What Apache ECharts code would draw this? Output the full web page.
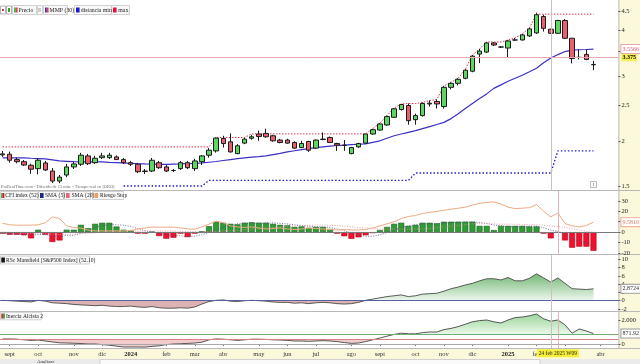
<!DOCTYPE html>
<html><head><meta charset="utf-8">
<script src="https://cdn.jsdelivr.net/npm/echarts@6/dist/echarts.min.js"></script>
<style>html,body{margin:0;padding:0;background:#fff}#c{width:640px;height:364px}</style>
</head><body><div id="c"></div><script>
// ---------- categories (weekly bars, Monday dates) ----------
const weeks = [];
(function(){ const t0 = Date.UTC(2023,7,28); for (let i=0;i<87;i++){ weeks.push(new Date(t0 + i*7*864e5).toISOString().slice(0,10)); } })();
const monthNames = ['ene','feb','mar','abr','may','jun','jul','ago','sept','oct','nov','dic'];
const markWeek = 77, cursorWeek = 78;
const cursorLabel = '24 feb 2025 W09';

// ---------- tick labels ----------
const priceTicks = [1.5, 2, 2.5, 3, 3.5, 4, 4.5];
const cfiTicks = [-20, -10, 0, 10, 20, 30];
const rscTicks = [-2, 0, 2, 4, 6, 8, 10];
const inerciaTicks = [0, 2000];

// ---------- price (weekly candles) ----------
const priceOpen = [1.843,1.839,1.778,1.755,1.716,1.680,1.741,1.655,1.554,1.614,
1.698,1.727,1.820,1.744,1.800,1.800,1.808,1.778,1.744,1.727,
1.655,1.655,1.744,1.698,1.661,1.680,1.744,1.680,1.755,1.828,
1.878,2.030,1.988,1.846,1.972,2.033,2.088,2.096,2.065,2.010,
2.010,1.980,1.918,1.992,1.911,2.022,2.043,1.967,1.945,1.846,
1.926,1.972,2.088,2.141,2.210,2.319,2.435,2.497,2.285,2.344,
2.534,2.561,2.481,2.799,2.870,2.963,3.097,3.449,3.493,3.698,
3.605,3.582,3.768,3.768,3.865,3.939,4.367,4.032,3.930,4.258,
3.809,3.378,3.442,3.225];
const priceClose = [1.831,1.771,1.755,1.719,1.674,1.771,1.666,1.554,1.593,1.698,
1.730,1.828,1.733,1.793,1.820,1.828,1.778,1.744,1.727,1.648,
1.650,1.771,1.690,1.655,1.661,1.744,1.690,1.763,1.820,1.886,
2.035,1.967,1.866,1.939,2.022,2.052,2.056,2.052,2.001,1.980,
1.972,1.911,1.967,1.886,2.010,2.018,1.980,1.947,1.945,1.918,
1.967,2.088,2.145,2.224,2.329,2.446,2.513,2.271,2.344,2.529,
2.521,2.521,2.799,2.870,2.944,3.117,3.405,3.515,3.698,3.651,
3.605,3.745,3.768,3.890,4.040,4.415,4.054,3.930,4.258,3.809,
3.354,3.378,3.335,3.231];
const priceHigh = [1.878,1.870,1.800,1.774,1.733,1.793,1.763,1.687,1.614,1.730,
1.752,1.855,1.843,1.820,1.855,1.855,1.826,1.797,1.763,1.741,
1.676,1.797,1.763,1.719,1.676,1.763,1.763,1.786,1.831,1.914,
2.043,2.065,2.096,1.959,2.039,2.078,2.132,2.159,2.078,2.026,
2.026,1.995,2.001,2.001,2.018,2.109,2.056,1.976,2.010,1.926,
1.976,2.092,2.159,2.235,2.344,2.458,2.521,2.529,2.374,2.545,
2.577,2.594,2.825,2.888,2.963,3.137,3.427,3.560,3.721,3.721,
3.628,3.768,3.816,3.914,4.066,4.472,4.415,4.040,4.277,4.296,
3.816,3.553,3.553,3.305];
const priceLow = [1.808,1.744,1.737,1.708,1.627,1.621,1.655,1.534,1.534,1.593,
1.676,1.708,1.719,1.730,1.786,1.786,1.774,1.730,1.708,1.634,
1.624,1.645,1.676,1.645,1.645,1.666,1.676,1.655,1.719,1.800,
1.858,1.918,1.858,1.839,1.959,2.014,2.001,2.039,1.988,1.970,
1.963,1.902,1.911,1.866,1.902,2.007,1.976,1.878,1.878,1.839,
1.914,1.963,2.078,2.132,2.200,2.315,2.419,2.214,2.214,2.329,
2.481,2.450,2.450,2.763,2.834,2.944,3.077,3.258,3.471,3.628,
3.582,3.363,3.745,3.756,3.841,3.914,3.972,3.914,3.914,3.792,
3.252,3.335,3.320,3.117];
const mmp30 = [1.797,1.797,1.797,1.797,1.793,1.790,1.786,1.775,1.763,1.759,
1.755,1.752,1.752,1.752,1.752,1.748,1.745,1.741,1.737,1.733,
1.730,1.728,1.725,1.726,1.728,1.730,1.734,1.737,1.741,1.749,
1.757,1.768,1.778,1.788,1.797,1.805,1.812,1.820,1.835,1.850,
1.866,1.880,1.894,1.905,1.916,1.926,1.935,1.943,1.948,1.953,
1.958,1.963,1.982,2.001,2.033,2.065,2.088,2.110,2.132,2.160,
2.188,2.217,2.246,2.300,2.370,2.450,2.529,2.610,2.686,2.781,
2.843,2.907,2.963,3.020,3.087,3.156,3.268,3.363,3.438,3.504,
3.537,3.544,3.549,3.557];
const distMin = [null,null,null,null,null,null,null,null,null,null,
null,null,null,null,null,null,null,1.506,1.506,1.506,
1.506,1.506,1.506,1.506,1.506,1.506,1.506,1.506,1.506,1.561,
1.561,1.561,1.561,1.561,1.561,1.561,1.561,1.561,1.561,1.561,
1.561,1.561,1.561,1.561,1.561,1.561,1.561,1.561,1.561,1.561,
1.561,1.561,1.561,1.561,1.561,1.561,1.561,1.561,1.634,1.634,
1.634,1.634,1.634,1.634,1.634,1.634,1.634,1.634,1.634,1.634,
1.634,1.634,1.634,1.634,1.634,1.634,1.634,1.634,1.878,1.878,
1.878,1.878,1.878,1.878];
const maxLine = [1.926,1.926,1.926,1.926,1.926,1.926,1.926,1.926,1.926,1.926,
1.926,1.926,1.926,1.926,1.926,1.926,1.926,1.926,1.926,1.926,
1.926,1.926,1.926,1.926,1.926,1.926,1.926,1.926,1.926,1.926,
2.043,2.043,2.043,2.043,2.043,2.09,2.09,2.09,2.09,2.09,
2.09,2.09,2.09,2.09,2.09,2.09,2.09,2.09,2.09,2.09,
2.09,2.09,2.159,2.235,2.344,2.458,2.521,2.529,2.529,2.545,
2.577,2.594,2.825,2.888,2.963,3.137,3.427,3.560,3.721,3.721,
3.721,3.768,3.816,3.914,4.066,4.43,4.43,4.43,4.43,4.43,
4.43,4.43,4.43,4.43];
const lastPrice = 3.375, lastMmp = 3.5566;

// ---------- CFI index panel ----------
const cfiIndex = [-1.5,-2.5,-2.5,-3,-6,2.3,-2.5,-9.5,-8,2.3,
2.3,7,3.8,8,9,9,5.4,2.3,1.6,-1.5,
-1.5,0.3,-3.8,-6.3,-5.4,-1.5,-4.8,-1.5,0.8,5.7,
10,9,8,7.5,9,9.5,9,9,8,7,
6.5,5,5.5,4,5,5,3,-1.5,-4,-6.5,
-5,-3,-1,2,5,8,9,6,7,9,
9,8.5,10,10,10,10,10,6,6,2,
6,6,6,6,5.5,5.5,-1.5,-6,-0.5,-8,
-15,-14,-14,-18];
const cfiSma5 = [-1,-1.5,-2,-2.5,-3,-2.3,-2.3,-3.7,-4.7,-3,
-3,-1.2,1.5,4.7,6,7.4,7,6.7,5.5,3.4,
1.3,0.2,-1,-2.6,-3.3,-3.5,-4.4,-3.9,-2.5,-0.3,
2,4.8,6.7,8,8.7,8.6,8.6,8.8,8.9,8.5,
7.9,7,6.4,5.6,5.2,4.9,4.5,3.1,1.3,-0.8,
-3,-4,-3.9,-2.7,-0.4,2.2,4.6,6,7,7.8,
8,7.9,8.7,9.3,9.5,9.7,10,9.2,8.4,6.8,
6,5.2,5.2,5.2,5.9,5.8,4.2,1.9,0.7,-2.1,
-6.2,-8.7,-10.3,-13.8];
const cfiSma20 = [0,-0.3,-0.6,-0.9,-1.3,-1.2,-1.4,-2,-2.4,-2.2,
-2,-1.5,-1.2,-0.6,0,0.5,0.8,1,1.1,0.9,
1,1.1,1.2,1,1,0.8,0.5,0.3,0.3,0.5,
0.8,1.2,1.5,1.8,2.3,2.9,3.5,4,4.5,5,
5.4,5.8,6.3,6.6,6.8,6.8,6.6,6.3,5.8,5.2,
4.5,3.9,3.4,3,2.9,2.8,2.9,2.9,3,3.2,
3.6,4.2,5,5.7,6.5,7.2,8,8.2,8.1,7.8,
7.7,7.6,7.5,7.4,7.3,7.1,6.6,5.9,5.3,4.5,
3.2,2,0.9,-0.5];
const riesgoStop = [8.6,7,6.7,6.7,6.7,7,9,14.6,13,6,
4.5,3.8,2,1.2,1.2,1.2,1.2,1.2,1.5,3,
4,4.8,4.8,4.8,4.8,4,3,2.9,5,7.6,
10.5,9,6,5,4.5,5,4,3,3.5,4,
3,2.5,3,4,3.5,3,2.5,2,2.5,2,
2,2.5,4,6,8,10,13,15,16,18,
19,20,21,22,23,24,26,27.6,28.5,29,
27,24,22.6,23,23.5,26.4,20,14.6,18.4,8.3,
6,5,6.4,9.581];

// ---------- RSc Mansfield ----------
const rscMansfield = [0.1,0,-0.1,-0.2,-0.3,0.1,-0.1,-0.5,-0.6,-0.7,
-0.9,-1.0,-1.1,-1.2,-1.1,-1.3,-1.4,-1.4,-1.3,-1.5,
-1.6,-1.4,-1.7,-1.8,-1.8,-1.7,-1.8,-1.5,-0.8,-0.2,
0.1,0.2,-0.1,-0.2,0,0.1,0,-0.1,-0.3,-0.4,
-0.4,-0.6,-0.5,-0.7,-0.5,-0.4,-0.5,-0.7,-0.8,-0.7,
-0.4,0.1,0.4,0.7,1.0,1.2,1.4,1.0,1.2,1.6,
1.7,1.8,2.3,2.9,3.3,3.8,4.2,4.8,5.3,5.3,
5.0,5.6,4.8,4.8,5.4,6.5,5.5,4.5,5.5,4.2,
2.9,2.8,2.7,2.8724];

// ---------- Inercia Alcista 2 ----------
const inercia = [420,420,400,350,300,330,250,170,100,80,
60,40,0,0,-50,-100,-180,-250,-250,-250,
-260,-200,-150,-50,0,20,50,80,150,350,
420,400,350,300,350,400,400,380,350,330,
300,250,250,220,250,280,250,200,120,50,
80,200,350,500,650,800,900,850,850,950,
1000,1000,1200,1300,1450,1650,1850,1950,2000,1850,
1750,2000,2200,2250,2350,2500,2100,1900,2000,1600,
900,1250,1080,871.92];
const inerciaHigh = 800, inerciaLow = 400;

// ====================================================
const FONT = 'Liberation Serif';
const chart = echarts.init(document.getElementById('c'));
const GL = -1, GW = 619.4;
const grids = [
  {left:GL, width:GW, top:0, height:191},
  {left:GL, width:GW, top:190.5, height:64},
  {left:GL, width:GW, top:255.1, height:56},
  {left:GL, width:GW, top:312.2, height:36}
].map(g => Object.assign({containLabel:false, outerBoundsMode:'none'}, g));

function isMonthStart(idx){ const v = weeks[idx]; return +v.slice(8,10) <= 7; }
const xAxes = [0,1,2,3].map(i => ({
  type:'category', gridIndex:i, data:weeks, boundaryGap:true,
  axisLine:{show:false}, splitLine:{show:false},
  axisTick: i===3 ? {show:true, alignWithLabel:true, length:2, interval:(idx)=>isMonthStart(idx), lineStyle:{color:'#777'}} : {show:false},
  axisLabel: i===3 ? {show:true, interval:(idx)=>isMonthStart(idx), margin:3, fontSize:6.5, color:'#333', fontFamily:FONT,
     formatter:(v)=>{ const m = +v.slice(5,7); return m===1 ? '{y|'+v.slice(0,4)+'}' : monthNames[m-1]; },
     rich:{y:{fontWeight:'bold', fontSize:6.5, fontFamily:FONT, color:'#222'}}} : {show:false}
}));
function yAx(gi, extra, ticks, fmt){
  return Object.assign({
    gridIndex:gi, position:'right', axisLine:{show:false}, splitLine:{show:false},
    axisTick:{show:true, length:2, customValues:ticks, lineStyle:{color:'#555'}},
    axisLabel:{show:true, customValues:ticks, margin:3, fontSize:6.5, color:'#222', fontFamily:FONT, formatter:fmt || (v=>String(v))}
  }, extra);
}
const yAxes = [
  yAx(0, {type:'log', logBase:10, min:1.46, max:4.843}, priceTicks, v=>String(+v.toFixed(2))),
  yAx(1, {type:'value', min:-21.5, max:40}, cfiTicks),
  yAx(2, {type:'value', min:-2.5, max:11}, rscTicks),
  yAx(3, {type:'value', min:-350, max:2650}, inerciaTicks, v=> v===2000 ? '2.000' : String(v))
];

const clear = 'rgba(0,0,0,0)';
function valueBox(val, text, color, border, bg, bold){
  return {yAxis:val, lineStyle:{color:clear, width:1}, label:{show:true, position:'end', distance:3, formatter:text, color:color,
    fontSize:6, fontFamily:FONT, fontWeight: bold?'bold':'normal', backgroundColor:bg||'#fff', borderColor:border||null, borderWidth:border?1:0, padding:[1,1]}};
}
function vline(idx, color){ return {xAxis:weeks[idx], lineStyle:{color:color, width:1, type:'solid'}, label:{show:false}}; }
function hline(val, color){ return {yAxis:val, lineStyle:{color:color, width:1, type:'solid'}, label:{show:false}}; }
const mlBase = {silent:true, symbol:'none', animation:false, label:{show:false}};

const candles = priceOpen.map((o,i)=>[o, priceClose[i], priceLow[i], priceHigh[i]]);
const cfiBars = cfiIndex.map(v => ({value:v, itemStyle:{color: v>=0 ? '#2e9b34' : '#f2102e', borderColor: v>=0 ? '#1d5f1f' : '#b00818', borderWidth:0.6}}));

const series = [
  {type:'candlestick', name:'Precio', xAxisIndex:0, yAxisIndex:0, data:candles, barWidth:5, z:3,
   itemStyle:{color:'#5cd862', color0:'#e8606e', borderColor:'#1c1c1c', borderColor0:'#1c1c1c', borderColorDoji:'#1c1c1c', borderWidth:1},
   markLine:Object.assign({}, mlBase, {data:[
     Object.assign(hline(lastPrice, '#eaa8b0'), {label:{show:true, position:'end', distance:3, formatter:'3.375', color:'#000', fontSize:6, fontWeight:'bold', fontFamily:FONT, backgroundColor:'#f4ee58', padding:[1,1]}}),
     vline(markWeek, '#c9c0c2')
   ]})},
  {type:'line', name:'MMP (30)', xAxisIndex:0, yAxisIndex:0, data:mmp30, showSymbol:false, lineStyle:{color:'#3b30c6', width:1.2}, z:2,
   markLine:Object.assign({}, mlBase, {data:[ valueBox(lastMmp, '3.5566', '#d86070', '#e8a8b0', '#fff') ]})},
  {type:'line', name:'distancia min', xAxisIndex:0, yAxisIndex:0, data:distMin, showSymbol:false, lineStyle:{color:'#1d1dd0', width:1.4, type:[1.5,2]}},
  {type:'line', name:'max', xAxisIndex:0, yAxisIndex:0, data:maxLine, showSymbol:false, lineStyle:{color:'#e0304a', width:1, type:[1.5,1.5]}},

  {type:'bar', name:'CFI index (52)', xAxisIndex:1, yAxisIndex:1, data:cfiBars, barWidth:6,
   markLine:Object.assign({}, mlBase, {data:[ hline(0, '#7a7a7a'), vline(cursorWeek, '#dcb4ba') ]})},
  {type:'line', name:'SMA (5)', xAxisIndex:1, yAxisIndex:1, data:cfiSma5, showSymbol:false, lineStyle:{color:'#4a5180', width:0.8, type:[1,1.5]}, z:4},
  {type:'line', name:'SMA (20)', xAxisIndex:1, yAxisIndex:1, data:cfiSma20, showSymbol:false, lineStyle:{color:'#e58a96', width:0.8, type:[1,1.5]}, z:4},
  {type:'line', name:'Riesgo Stop', xAxisIndex:1, yAxisIndex:1, data:riesgoStop, showSymbol:false, lineStyle:{color:'#eeaa80', width:1}, z:4,
   markLine:Object.assign({}, mlBase, {data:[ valueBox(9.581, '9.5810', '#e07a6a', '#f0a898', '#fff') ]})},

  {type:'line', xAxisIndex:2, yAxisIndex:2, data:rscMansfield.map(v=>Math.max(v,0)), showSymbol:false, lineStyle:{width:0, opacity:0}, silent:true,
   areaStyle:{origin:0, opacity:1, color:{type:'linear', x:0, y:0, x2:0, y2:1, colorStops:[{offset:0, color:'#74b874'},{offset:1, color:'#eef7ee'}]}}},
  {type:'line', xAxisIndex:2, yAxisIndex:2, data:rscMansfield.map(v=>Math.min(v,0)), showSymbol:false, lineStyle:{width:0, opacity:0}, silent:true,
   areaStyle:{origin:0, opacity:1, color:'#dcb2b2'}},
  {type:'line', name:'RSc Mansfield', xAxisIndex:2, yAxisIndex:2, data:rscMansfield, showSymbol:false, lineStyle:{color:'#4a4a4a', width:0.9}, z:4,
   markLine:Object.assign({}, mlBase, {data:[ hline(0, '#5363a0'), vline(markWeek, '#c9c0c2'), valueBox(2.8724, '2.8724', '#333', '#9a9a9a', '#fff') ]})},

  {type:'line', xAxisIndex:3, yAxisIndex:3, data:inercia.map(v=>Math.max(v,inerciaHigh)), showSymbol:false, lineStyle:{width:0, opacity:0}, silent:true,
   areaStyle:{origin:inerciaHigh, opacity:1, color:{type:'linear', x:0, y:0, x2:0, y2:1, colorStops:[{offset:0, color:'#9cd69c'},{offset:1, color:'#eaf8ea'}]}}},
  {type:'line', xAxisIndex:3, yAxisIndex:3, data:inercia.map(v=>Math.min(v,inerciaLow)), showSymbol:false, lineStyle:{width:0, opacity:0}, silent:true,
   areaStyle:{origin:inerciaLow, opacity:1, color:'#f2cccc'}},
  {type:'line', name:'Inercia Alcista 2', xAxisIndex:3, yAxisIndex:3, data:inercia, showSymbol:false, lineStyle:{color:'#444', width:0.9}, z:4,
   markLine:Object.assign({}, mlBase, {data:[
     hline(inerciaHigh, '#6fae6f'), hline(inerciaLow, '#d98080'), hline(0, '#a8a8a8'),
     vline(markWeek, '#c9c0c2'),
     {xAxis:weeks[cursorWeek], lineStyle:{color:'#dcb4ba', width:1, type:'solid'}, label:{show:true, position:'start', distance:1, formatter:cursorLabel, fontSize:5.5, fontFamily:FONT, color:'#222', backgroundColor:'#f6f03a', padding:[1,2]}},
     valueBox(871.92, '871.92', '#333', '#9a9a9a', '#fff')
   ]})}
];

// ---------- decorations (backgrounds, separators, legends) ----------
const G = [];
function rect(x,y,w,h,fill,stroke,z){ G.push({type:'rect', shape:{x:x,y:y,width:w,height:h}, style:{fill:fill, stroke:stroke||null, lineWidth:stroke?0.8:0}, z:(z==null?-10:z), silent:true}); }
function line(x1,y1,x2,y2,color,z){ G.push({type:'line', shape:{x1:x1,y1:y1,x2:x2,y2:y2}, style:{stroke:color, lineWidth:1}, z:(z==null?-5:z), silent:true}); }
function text(x,y,t,size,color,extra){ G.push({type:'text', x:x, y:y, style:Object.assign({text:t, fill:color||'#222', fontSize:size, fontFamily:FONT, verticalAlign:'middle', align:'left'}, extra||{}), z:60, silent:true}); }

rect(618.4, 0, 21.6, 348.5, '#fbf8dc');
rect(0, 348.5, 640, 10.5, '#fbf8dc');
rect(0, 359, 640, 5, '#ebebeb');
rect(100, 359.5, 440, 5, '#fafafa', '#c8c8c8', -9);
text(37, 362, 'Analizar', 5, '#333');
[190.5, 254.5, 311.5, 348.5].forEach(y => line(0, y, 640, y, '#b9b9b9'));
line(618.9, 0, 618.9, 348.5, '#b9b9b9');

// main legend
rect(0.5, 6, 5, 8, '#fff', '#a0a0a0', 55); rect(6.5, 6, 5, 8, '#fff', '#a0a0a0', 55);
rect(2, 9, 2, 2, '#e03040', null, 56); rect(8, 8, 2, 4, '#30a030', null, 56);
rect(12.5, 5.5, 24, 9, '#f8f8f8', '#c6c6c6', 55); rect(14, 7.5, 1.8, 5, '#3cb83c', null, 56); rect(15.8, 7.5, 1.8, 5, '#e04050', null, 56);
text(18.5, 10, 'Precio', 5.8);
rect(37.5, 5.5, 5, 9, '#f8f8f8', '#c6c6c6', 55); text(38.3, 10, '|||', 5, '#555');
rect(43.5, 5.5, 24, 9, '#f8f8f8', '#c6c6c6', 55); rect(45, 7.5, 1.8, 5, '#3b30c6', null, 56); rect(46.8, 7.5, 1.8, 5, '#e04050', null, 56);
text(49.5, 10, 'MMP (30)', 5.8);
rect(74.5, 5.5, 37, 9, '#f8f8f8', '#c6c6c6', 55); rect(76, 7.5, 3.6, 5, '#1d1dd0', null, 56);
text(80.8, 10, 'distancia min', 5.8);
rect(111.5, 5.5, 18, 9, '#f8f8f8', '#c6c6c6', 55); rect(113, 7.5, 3.6, 5, '#e8103a', null, 56);
text(118.3, 10, 'max', 5.8);
text(1, 186.5, 'ProRealTime.com - Diferido de 15 min. - Tiempo real en [ORO]', 4.4, '#6a6a6a');
rect(590.5, 181.5, 6, 6, '#fff', '#a8a8a8', 55); text(593.5, 184.6, '1', 4.8, '#555', {align:'center'});

// CFI legend
rect(0.5, 191.5, 38, 8, '#f8f8f8', '#c6c6c6', 55); rect(1.2, 193, 1.6, 5, '#2e9b34', null, 56); rect(2.8, 193, 1.6, 5, '#f2102e', null, 56);
text(5.3, 195.6, 'CFI index (52)', 5.6);
rect(38.5, 191.5, 25, 8, '#f8f8f8', '#c6c6c6', 55); rect(40, 193, 3.6, 5, '#1a2a80', null, 56); text(45, 195.6, 'SMA (5)', 5.6);
rect(64.5, 191.5, 26, 8, '#f8f8f8', '#c6c6c6', 55); rect(66, 193, 3.6, 5, '#e06878', null, 56); text(71.5, 195.6, 'SMA (20)', 5.6);
rect(92.5, 191.5, 31, 8, '#f8f8f8', '#c6c6c6', 55); rect(94.5, 193, 3.6, 5, '#f0a060', null, 56); text(100, 195.6, 'Riesgo Stop', 5.6);

// RSC legend
rect(0.5, 256, 89, 8, '#f8f8f8', '#c6c6c6', 55); rect(1.3, 257.5, 3.6, 5, '#111', null, 56);
text(6, 260.1, 'RSc Mansfield [S&P500 Index] (52.10)', 5.6);
// Inercia legend
rect(0.5, 312.3, 41, 7.5, '#f8f8f8', '#c6c6c6', 55); rect(1.3, 313.6, 1.8, 5, '#c83030', null, 56); rect(3.1, 313.6, 1.8, 5, '#30a030', null, 56);
text(6, 316.1, 'Inercia Alcista 2', 5.6);

chart.setOption({
  animation:false, backgroundColor:'#ffffff', textStyle:{fontFamily:FONT},
  grid:grids, xAxis:xAxes, yAxis:yAxes, series:series,
  graphic:{elements:G}
});
</script></body></html>
